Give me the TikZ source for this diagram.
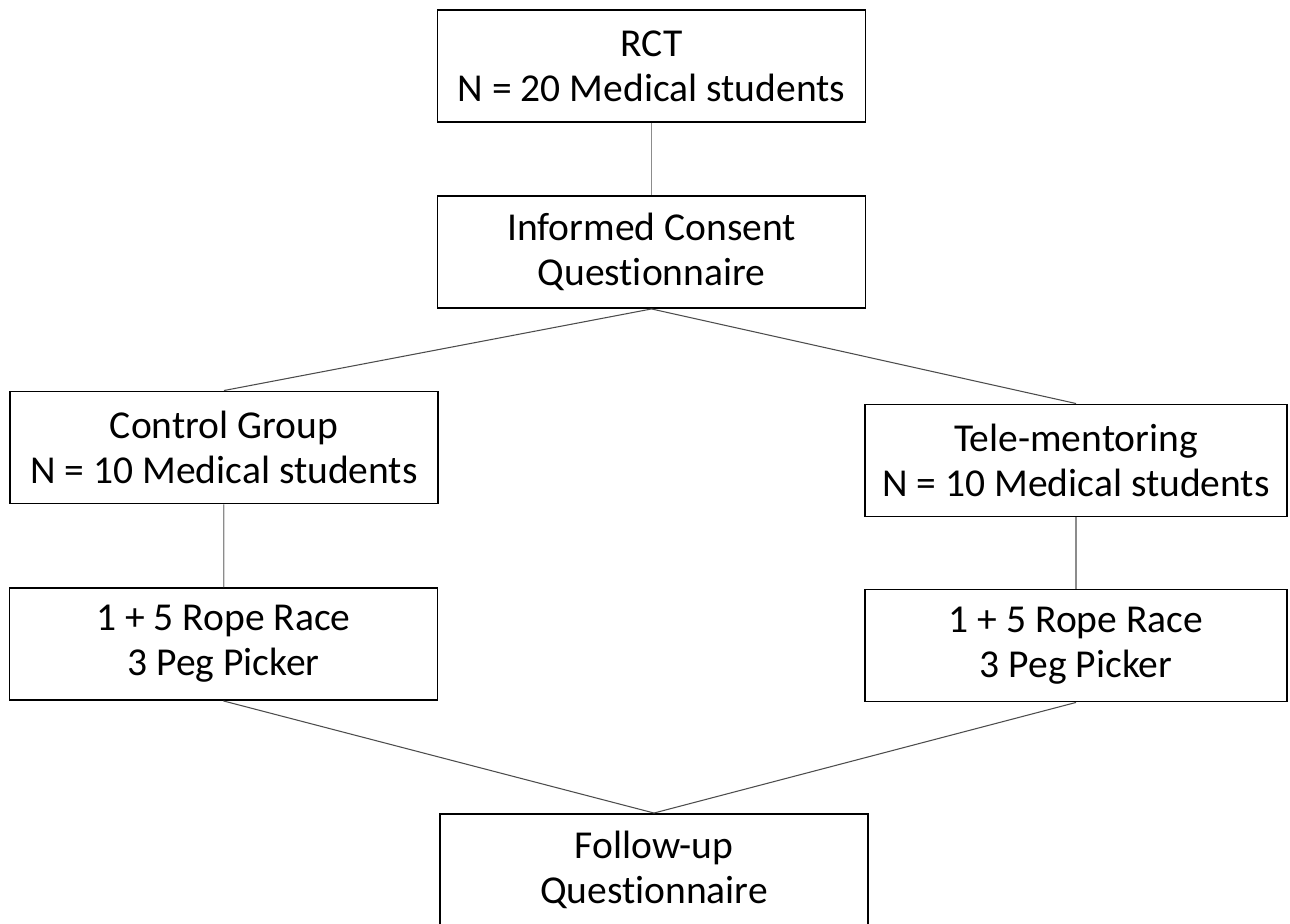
\documentclass[tikz,border=0pt]{standalone}
\usepackage{fontspec}
\setmainfont{Carlito}[Ligatures=NoCommon]

\begin{document}
\begin{tikzpicture}[x=1cm,y=1cm,
  stage/.style={draw=black,line width=1.1pt,fill=white,align=center,
    minimum width=8.56cm,minimum height=2.24cm,inner sep=0pt,
    font=\fontsize{22.5}{25.8}\selectfont},
  vlink/.style={draw=black!45,line width=0.7pt},
  dlink/.style={draw=black!70,line width=0.6pt}]
  \useasboundingbox[fill=white] (0,0) rectangle (25.8,18.48);

  % Trial flow, top to bottom.
  \node[stage] (rct) at (13.03,17.16) {RCT\\N = 20 Medical students};
  \node[stage] (consent) at (13.03,13.44) {Informed Consent\\Questionnaire};
  \node[stage] (control) at (4.48,9.53) {Control Group\\N = 10 Medical students};
  \node[stage,minimum width=8.44cm] (tele) at (21.52,9.27) {Tele-mentoring\\N = 10 Medical students};
  \node[stage] (tasksL) at (4.47,5.6) {1 + 5 Rope Race\\3 Peg Picker};
  \node[stage,minimum width=8.44cm] (tasksR) at (21.52,5.57) {1 + 5 Rope Race\\3 Peg Picker};
  \node[stage] (follow) at (13.08,1.08) {Follow-up\\Questionnaire};

  \draw[vlink] (rct) -- (consent);
  \draw[dlink] (consent.south) -- (control.north);
  \draw[dlink] (consent.south) -- (tele.north);
  \draw[vlink] (control) -- (tasksL);
  \draw[vlink] (tele) -- (tasksR);
  \draw[dlink] (tasksL.south) -- (follow.north);
  \draw[dlink] (tasksR.south) -- (follow.north);
\end{tikzpicture}
\end{document}
